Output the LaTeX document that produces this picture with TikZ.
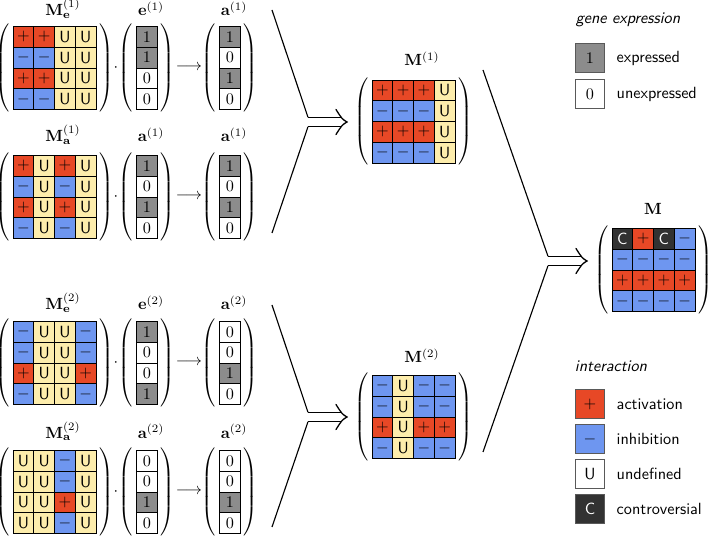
\documentclass[tikz,border=0pt]{standalone}
\usetikzlibrary{calc,matrix}

\definecolor{actred}{RGB}{231,72,38}
\definecolor{inhblue}{RGB}{110,150,240}
\definecolor{undyel}{RGB}{253,237,172}
\definecolor{condark}{RGB}{50,50,50}
\definecolor{expgray}{RGB}{140,140,140}

\begin{document}
\begin{tikzpicture}[x=0.617pt, y=-0.617pt,
  cell/.style={draw=black, line width=0.5pt, minimum size=12.8pt, inner sep=0pt, anchor=center, font=\sffamily},
  act/.style={cell, fill=actred},
  inh/.style={cell, fill=inhblue},
  und/.style={cell, fill=undyel},
  con/.style={cell, fill=condark, text=white},
  one/.style={cell, fill=expgray},
  zero/.style={cell, fill=white},
  mat/.style={matrix of nodes, inner xsep=0.5pt, inner ysep=3pt, column sep=-0.5pt, row sep=-0.5pt,
    left delimiter={(}, right delimiter={)}},
  key/.style={draw=black!65, line width=0.6pt, minimum size=17.3pt, inner sep=0pt, font=\sffamily},
  keytext/.style={anchor=west, font=\sffamily},
  wedge/.style={line width=0.7pt},
  dbl/.style={double, double distance=5pt, line width=0.8pt},
  imphead/.style={line width=0.8pt, line cap=round}]
\useasboundingbox (0,0) rectangle (708,539);

% group 1
\node[anchor=base] (lMe1) at (63,16) {$\mathbf{M}_{\mathbf{e}}^{(1)}$};
\node[anchor=base] (le1) at (151,16) {$\mathbf{e}^{(1)}$};
\node[anchor=base] (lr1) at (234,16) {$\mathbf{a}^{(1)}$};
\matrix (Me1) [mat] at (54.5,68) {
  |[act]|$+$ & |[act]|$+$ & |[und]|U & |[und]|U \\
  |[inh]|$-$ & |[inh]|$-$ & |[und]|U & |[und]|U \\
  |[act]|$+$ & |[act]|$+$ & |[und]|U & |[und]|U \\
  |[inh]|$-$ & |[inh]|$-$ & |[und]|U & |[und]|U \\
};
\node (d1) at (116,68) {$\cdot$};
\matrix (e1) [mat] at (147,68) {
  |[one]|$1$ \\ |[one]|$1$ \\ |[zero]|$0$ \\ |[zero]|$0$ \\
};
\node (ar1) at (189,68) {$\longrightarrow$};
\matrix (r1) [mat] at (230,68) {
  |[one]|$1$ \\ |[zero]|$0$ \\ |[one]|$1$ \\ |[zero]|$0$ \\
};

\node[anchor=base] (lMa1) at (63,142) {$\mathbf{M}_{\mathbf{a}}^{(1)}$};
\node[anchor=base] (la1) at (151,142) {$\mathbf{a}^{(1)}$};
\node[anchor=base] (ls1) at (234,142) {$\mathbf{a}^{(1)}$};
\matrix (Ma1) [mat] at (54.5,197) {
  |[act]|$+$ & |[und]|U & |[act]|$+$ & |[und]|U \\
  |[inh]|$-$ & |[und]|U & |[inh]|$-$ & |[und]|U \\
  |[act]|$+$ & |[und]|U & |[act]|$+$ & |[und]|U \\
  |[inh]|$-$ & |[und]|U & |[inh]|$-$ & |[und]|U \\
};
\node (d2) at (116,197) {$\cdot$};
\matrix (a1) [mat] at (147,197) {
  |[one]|$1$ \\ |[zero]|$0$ \\ |[one]|$1$ \\ |[zero]|$0$ \\
};
\node (ar2) at (189,197) {$\longrightarrow$};
\matrix (s1) [mat] at (230,197) {
  |[one]|$1$ \\ |[zero]|$0$ \\ |[one]|$1$ \\ |[zero]|$0$ \\
};

% group 2
\node[anchor=base] (lMe2) at (63,310) {$\mathbf{M}_{\mathbf{e}}^{(2)}$};
\node[anchor=base] (le2) at (151,310) {$\mathbf{e}^{(2)}$};
\node[anchor=base] (lr2) at (234,310) {$\mathbf{a}^{(2)}$};
\matrix (Me2) [mat] at (54.5,363) {
  |[inh]|$-$ & |[und]|U & |[und]|U & |[inh]|$-$ \\
  |[inh]|$-$ & |[und]|U & |[und]|U & |[inh]|$-$ \\
  |[act]|$+$ & |[und]|U & |[und]|U & |[act]|$+$ \\
  |[inh]|$-$ & |[und]|U & |[und]|U & |[inh]|$-$ \\
};
\node (d3) at (116,363) {$\cdot$};
\matrix (e2) [mat] at (147,363) {
  |[one]|$1$ \\ |[zero]|$0$ \\ |[zero]|$0$ \\ |[one]|$1$ \\
};
\node (ar3) at (189,363) {$\longrightarrow$};
\matrix (r2) [mat] at (230,363) {
  |[zero]|$0$ \\ |[zero]|$0$ \\ |[one]|$1$ \\ |[zero]|$0$ \\
};

\node[anchor=base] (lMa2) at (63,438.5) {$\mathbf{M}_{\mathbf{a}}^{(2)}$};
\node[anchor=base] (la2) at (151,438.5) {$\mathbf{a}^{(2)}$};
\node[anchor=base] (ls2) at (234,438.5) {$\mathbf{a}^{(2)}$};
\matrix (Ma2) [mat] at (54.5,492) {
  |[und]|U & |[und]|U & |[inh]|$-$ & |[und]|U \\
  |[und]|U & |[und]|U & |[inh]|$-$ & |[und]|U \\
  |[und]|U & |[und]|U & |[act]|$+$ & |[und]|U \\
  |[und]|U & |[und]|U & |[inh]|$-$ & |[und]|U \\
};
\node (d4) at (116,492) {$\cdot$};
\matrix (a2) [mat] at (147,492) {
  |[zero]|$0$ \\ |[zero]|$0$ \\ |[one]|$1$ \\ |[zero]|$0$ \\
};
\node (ar4) at (189,492) {$\longrightarrow$};
\matrix (s2) [mat] at (230,492) {
  |[zero]|$0$ \\ |[zero]|$0$ \\ |[one]|$1$ \\ |[zero]|$0$ \\
};

% merged matrices
\node[anchor=base] (lM1) at (422,66) {$\mathbf{M}^{(1)}$};
\matrix (M1) [mat] at (413.5,121.5) {
  |[act]|$+$ & |[act]|$+$ & |[act]|$+$ & |[und]|U \\
  |[inh]|$-$ & |[inh]|$-$ & |[inh]|$-$ & |[und]|U \\
  |[act]|$+$ & |[act]|$+$ & |[act]|$+$ & |[und]|U \\
  |[inh]|$-$ & |[inh]|$-$ & |[inh]|$-$ & |[und]|U \\
};
\node[anchor=base] (lM2) at (422,363) {$\mathbf{M}^{(2)}$};
\matrix (M2) [mat] at (413.5,417) {
  |[inh]|$-$ & |[und]|U & |[inh]|$-$ & |[inh]|$-$ \\
  |[inh]|$-$ & |[und]|U & |[inh]|$-$ & |[inh]|$-$ \\
  |[act]|$+$ & |[und]|U & |[act]|$+$ & |[act]|$+$ \\
  |[inh]|$-$ & |[und]|U & |[inh]|$-$ & |[inh]|$-$ \\
};
\node[anchor=base] (lM) at (653,215) {$\mathbf{M}$};
\matrix (M) [mat] at (653.5,270) {
  |[con]|C & |[act]|$+$ & |[con]|C & |[inh]|$-$ \\
  |[inh]|$-$ & |[inh]|$-$ & |[inh]|$-$ & |[inh]|$-$ \\
  |[act]|$+$ & |[act]|$+$ & |[act]|$+$ & |[act]|$+$ \\
  |[inh]|$-$ & |[inh]|$-$ & |[inh]|$-$ & |[inh]|$-$ \\
};

% joining arrows
\coordinate (u1) at (272,10);
\coordinate (l1) at (272,233);
\coordinate (j1) at (308,122);
\coordinate (j1a) at (308,117.3);
\coordinate (j1b) at (308,126.7);
\coordinate (t1) at (347,122);
\draw[wedge] (u1) -- (j1a);
\draw[wedge] (j1b) -- (l1);
\draw[dbl] (j1) -- ($(t1)+(-5,0)$);
\draw[imphead] ($(t1)+(-11,-12.5)$) .. controls ($(t1)+(-5,-3)$) .. (t1)
  .. controls ($(t1)+(-5,3)$) .. ($(t1)+(-11,12.5)$);

\coordinate (u2) at (272,305);
\coordinate (l2) at (272,527);
\coordinate (j2) at (308,417);
\coordinate (j2a) at (308,412.3);
\coordinate (j2b) at (308,421.7);
\coordinate (t2) at (347,417);
\draw[wedge] (u2) -- (j2a);
\draw[wedge] (j2b) -- (l2);
\draw[dbl] (j2) -- ($(t2)+(-5,0)$);
\draw[imphead] ($(t2)+(-11,-12.5)$) .. controls ($(t2)+(-5,-3)$) .. (t2)
  .. controls ($(t2)+(-5,3)$) .. ($(t2)+(-11,12.5)$);

\coordinate (u3) at (483,70);
\coordinate (l3) at (483,452);
\coordinate (j3) at (548,261);
\coordinate (j3a) at (548,256.3);
\coordinate (j3b) at (548,265.7);
\coordinate (t3) at (587,261);
\draw[wedge] (u3) -- (j3a);
\draw[wedge] (j3b) -- (l3);
\draw[dbl] (j3) -- ($(t3)+(-5,0)$);
\draw[imphead] ($(t3)+(-11,-12.5)$) .. controls ($(t3)+(-5,-3)$) .. (t3)
  .. controls ($(t3)+(-5,3)$) .. ($(t3)+(-11,12.5)$);

% legend
\node[font=\sffamily\itshape] (hexp) at (628,20) {gene expression};
\node[key, fill=expgray] (k1) at (590,58) {$1$};
\node[keytext] (tk1) at (611,58) {expressed};
\node[key, fill=white] (k0) at (590,94) {$0$};
\node[keytext] (tk0) at (611,94) {unexpressed};

\node[font=\sffamily\itshape] (hint) at (611,366) {interaction};
\node[key, fill=actred] (kact) at (590,404) {$+$};
\node[keytext] (tact) at (611,404) {activation};
\node[key, fill=inhblue] (kinh) at (590,439) {$-$};
\node[keytext] (tinh) at (611,439) {inhibition};
\node[key, fill=white] (kund) at (590,474) {U};
\node[keytext] (tund) at (611,474) {undefined};
\node[key, fill=condark, text=white] (kcon) at (590,509) {C};
\node[keytext] (tcon) at (611,509) {controversial};
\end{tikzpicture}
\end{document}
